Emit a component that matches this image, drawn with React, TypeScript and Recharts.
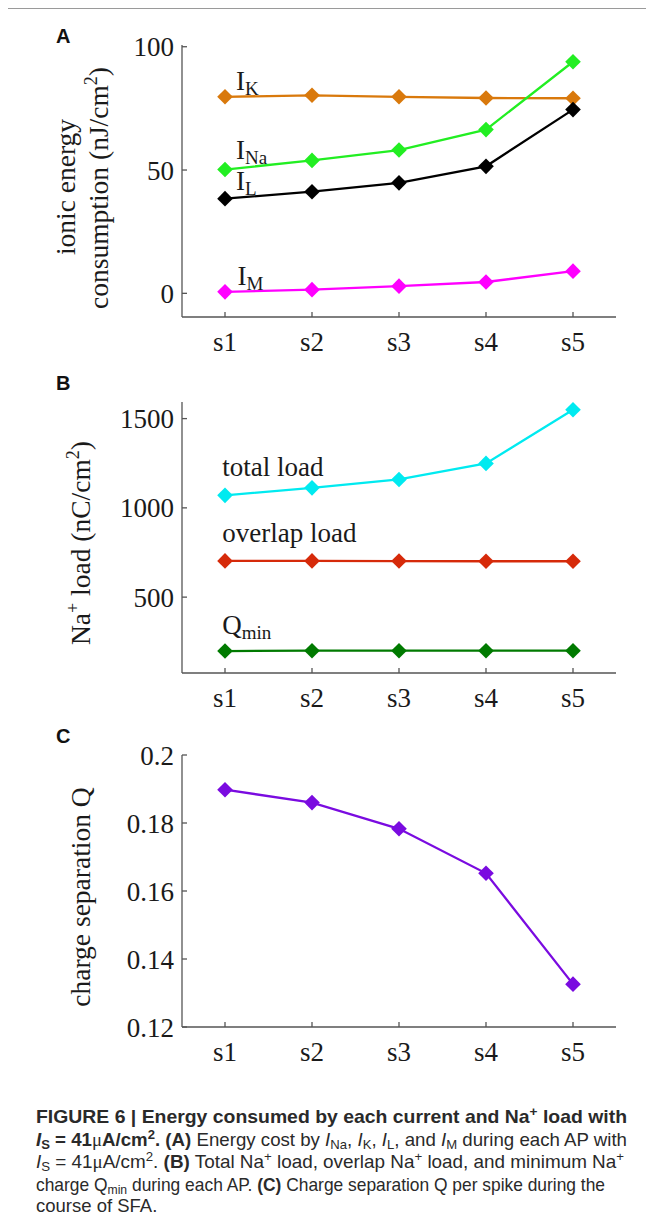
import { LineChart, Line, XAxis, YAxis, LabelList } from "recharts"

const spikes = ["s1", "s2", "s3", "s4", "s5"]

// A: ionic energy consumption (nJ/cm²)
const energyK = [79.7, 80.3, 79.7, 79.2, 79.1]
const energyNa = [50.2, 53.9, 58.1, 66.4, 93.9]
const energyL = [38.4, 41.2, 44.8, 51.5, 74.5]
const energyM = [0.6, 1.5, 2.9, 4.6, 9.0]
const energyTicks = [0, 50, 100]

// B: Na+ load (nC/cm²)
const totalLoad = [1070, 1112, 1159, 1249, 1550]
const overlapLoad = [703, 703, 702, 701, 701]
const qMin = [198, 200, 200, 200, 200]
const loadTicks = [500, 1000, 1500]

// C: charge separation Q
const chargeSep = [0.1898, 0.186, 0.1783, 0.1652, 0.1326]
const chargeTicks = [0.12, 0.14, 0.16, 0.18, 0.2]

const SERIF = "'Liberation Serif', 'Times New Roman', serif"
const SANS = "'Liberation Sans', Arial, sans-serif"
const AXIS = "#555"
const INK = "#1a1a1a"

const energyRows = spikes.map((s, i) => ({
  spike: s,
  K: energyK[i],
  Na: energyNa[i],
  L: energyL[i],
  M: energyM[i],
}))
const loadRows = spikes.map((s, i) => ({
  spike: s,
  total: totalLoad[i],
  overlap: overlapLoad[i],
  qmin: qMin[i],
}))
const chargeRows = spikes.map((s, i) => ({ spike: s, q: chargeSep[i] }))

const tickStyle = { fontFamily: SERIF, fontSize: 27, fill: INK }

const Diamond = (props: any) => {
  const { cx, cy, color, index } = props
  if (cx == null || cy == null) return <g key={index} />
  const r = 7.8
  return (
    <path
      key={index}
      d={`M${cx},${cy - r}L${cx + r},${cy}L${cx},${cy + r}L${cx - r},${cy}Z`}
      fill={color}
    />
  )
}

// text tag placed next to the first point of a series
function tagAtFirst(main: string, sub: string, dx: number, dy: number) {
  return (p: any) => {
    if (p.index !== 0) return null
    return (
      <text x={p.x + dx} y={p.y + dy} fontFamily={SERIF} fontSize={27} fill={INK}>
        {main}
        {sub && (
          <tspan dy={5} fontSize={19}>
            {sub}
          </tspan>
        )}
      </text>
    )
  }
}

function series(key: string, color: string, tag?: [string, string, number, number]) {
  return (
    <Line
      key={key}
      type="linear"
      dataKey={key}
      stroke={color}
      strokeWidth={2.3}
      dot={(p: any) => <Diamond key={p.index} {...p} color={color} />}
      activeDot={false}
      isAnimationActive={false}
    >
      {tag && <LabelList dataKey={key} content={tagAtFirst(...tag)} />}
    </Line>
  )
}

function xAxis() {
  return (
    <XAxis
      dataKey="spike"
      padding={{ left: 43, right: 43 }}
      interval={0}
      height={40}
      tickSize={-5}
      tickMargin={20}
      tick={tickStyle}
      axisLine={{ stroke: AXIS, strokeWidth: 1.3 }}
      tickLine={{ stroke: AXIS, strokeWidth: 1.3 }}
    />
  )
}

function yAxis(domain: number[], ticks: number[], label: any) {
  return (
    <YAxis
      type="number"
      domain={domain}
      ticks={ticks}
      width={80}
      tickSize={-5}
      tickMargin={13}
      tick={tickStyle}
      axisLine={{ stroke: AXIS, strokeWidth: 1.3 }}
      tickLine={{ stroke: AXIS, strokeWidth: 1.3 }}
      label={label}
    />
  )
}

const rotated = (x: number, y: number, children: any) => (
  <text
    transform={`rotate(-90 ${x} ${y})`}
    x={x}
    y={y}
    textAnchor="middle"
    fontFamily={SERIF}
    fontSize={27.5}
    fill={INK}
  >
    {children}
  </text>
)

const energyLabel = () => (
  <g>
    {rotated(75, 187, "ionic energy")}
    {rotated(
      108,
      188,
      <>
        consumption (nJ/cm
        <tspan dy={-11} fontSize={18}>
          2
        </tspan>
        <tspan dy={11}>)</tspan>
      </>
    )}
  </g>
)

const loadLabel = () =>
  rotated(
    90,
    173,
    <>
      Na
      <tspan dy={-11} fontSize={18}>
        +
      </tspan>
      <tspan dy={11}> load (nC/cm</tspan>
      <tspan dy={-11} fontSize={18}>
        2
      </tspan>
      <tspan dy={11}>)</tspan>
    </>
  )

const chargeLabel = () => rotated(90, 177, "charge separation Q")

const CAP = "'Liberation Sans', Arial, sans-serif"

export default function App() {
  return (
    <div
      style={{
        position: "relative",
        width: 654,
        height: 1221,
        margin: -8,
        background: "#fff",
        overflow: "hidden",
      }}
    >
      <div
        style={{
          position: "absolute",
          left: 6,
          top: 7,
          right: -4,
          bottom: -4,
          borderLeft: "2px solid #9a9a9a",
          borderTop: "2px solid #9a9a9a",
        }}
      />

      <div style={{ position: "absolute", left: 0, top: 0 }}>
        <LineChart width={654} height={370} data={energyRows} margin={{ top: 45, right: 38, bottom: 13, left: 102 }}>
          {xAxis()}
          {yAxis([-9.6, 100.7], energyTicks, energyLabel)}
          {series("K", "#d9790c", ["I", "K", 11, -6.7])}
          {series("Na", "#22ee22", ["I", "Na", 11, -11])}
          {series("L", "#000000", ["I", "L", 11, -8.3])}
          {series("M", "#ff00ff", ["I", "M", 12.5, -6.7])}
        </LineChart>
      </div>

      <div style={{ position: "absolute", left: 0, top: 370 }}>
        <LineChart width={654} height={350} data={loadRows} margin={{ top: 32, right: 38, bottom: 7, left: 102 }}>
          {xAxis()}
          {yAxis([75, 1593], loadTicks, loadLabel)}
          {series("total", "#00eaf0", ["total load", "", -2.7, -19.3])}
          {series("overlap", "#d62a0a", ["overlap load", "", -2.7, -18.7])}
          {series("qmin", "#007a00", ["Q", "min", -2.7, -16.7])}
        </LineChart>
      </div>

      <div style={{ position: "absolute", left: 0, top: 720 }}>
        <LineChart width={654} height={360} data={chargeRows} margin={{ top: 35, right: 38, bottom: 13, left: 102 }}>
          {xAxis()}
          {yAxis([0.12, 0.2], chargeTicks, chargeLabel)}
          {series("q", "#7a0be0")}
        </LineChart>
      </div>

      <svg
        width={654}
        height={1221}
        style={{ position: "absolute", left: 0, top: 0, pointerEvents: "none" }}
      >
        <g fontFamily={SANS} fontWeight="bold" fontSize={20} fill="#111">
          <text x={56} y={43}>A</text>
          <text x={56} y={390}>B</text>
          <text x={56} y={743}>C</text>
        </g>

        <g fontFamily={CAP} fontSize={18.5} fill="#2a2a2a">
          <text x={36} y={1123} textLength={591} lengthAdjust="spacingAndGlyphs" fontWeight="bold">
            FIGURE 6 | Energy consumed by each current and Na
            <tspan dy={-7} fontSize={13}>+</tspan>
            <tspan dy={7}> load with</tspan>
          </text>
          <text x={36} y={1146} textLength={591} lengthAdjust="spacingAndGlyphs">
            <tspan fontWeight="bold" fontStyle="italic">I</tspan>
            <tspan dy={3} fontSize={13} fontWeight="bold">S</tspan>
            <tspan dy={-3} fontWeight="bold"> = 41</tspan>
            <tspan fontFamily={SERIF}>μ</tspan>
            <tspan fontWeight="bold">A/cm</tspan>
            <tspan dy={-7} fontSize={13} fontWeight="bold">2</tspan>
            <tspan dy={7} fontWeight="bold">. (A)</tspan>
            <tspan> Energy cost by </tspan>
            <tspan fontStyle="italic">I</tspan>
            <tspan dy={3} fontSize={13}>Na</tspan>
            <tspan dy={-3}>, </tspan>
            <tspan fontStyle="italic">I</tspan>
            <tspan dy={3} fontSize={13}>K</tspan>
            <tspan dy={-3}>, </tspan>
            <tspan fontStyle="italic">I</tspan>
            <tspan dy={3} fontSize={13}>L</tspan>
            <tspan dy={-3}>, and </tspan>
            <tspan fontStyle="italic">I</tspan>
            <tspan dy={3} fontSize={13}>M</tspan>
            <tspan dy={-3}> during each AP with</tspan>
          </text>
          <text x={36} y={1168} textLength={588} lengthAdjust="spacingAndGlyphs">
            <tspan fontStyle="italic">I</tspan>
            <tspan dy={3} fontSize={13}>S</tspan>
            <tspan dy={-3}> = 41</tspan>
            <tspan fontFamily={SERIF}>μ</tspan>
            <tspan>A/cm</tspan>
            <tspan dy={-7} fontSize={13}>2</tspan>
            <tspan dy={7}>. </tspan>
            <tspan fontWeight="bold">(B)</tspan>
            <tspan> Total Na</tspan>
            <tspan dy={-7} fontSize={13}>+</tspan>
            <tspan dy={7}> load, overlap Na</tspan>
            <tspan dy={-7} fontSize={13}>+</tspan>
            <tspan dy={7}> load, and minimum Na</tspan>
            <tspan dy={-7} fontSize={13}>+</tspan>
          </text>
          <text x={36} y={1191} textLength={569} lengthAdjust="spacingAndGlyphs">
            <tspan>charge Q</tspan>
            <tspan dy={3} fontSize={13}>min</tspan>
            <tspan dy={-3}> during each AP. </tspan>
            <tspan fontWeight="bold">(C)</tspan>
            <tspan> Charge separation Q per spike during the</tspan>
          </text>
          <text x={36} y={1212}>course of SFA.</text>
        </g>
      </svg>
    </div>
  )
}
